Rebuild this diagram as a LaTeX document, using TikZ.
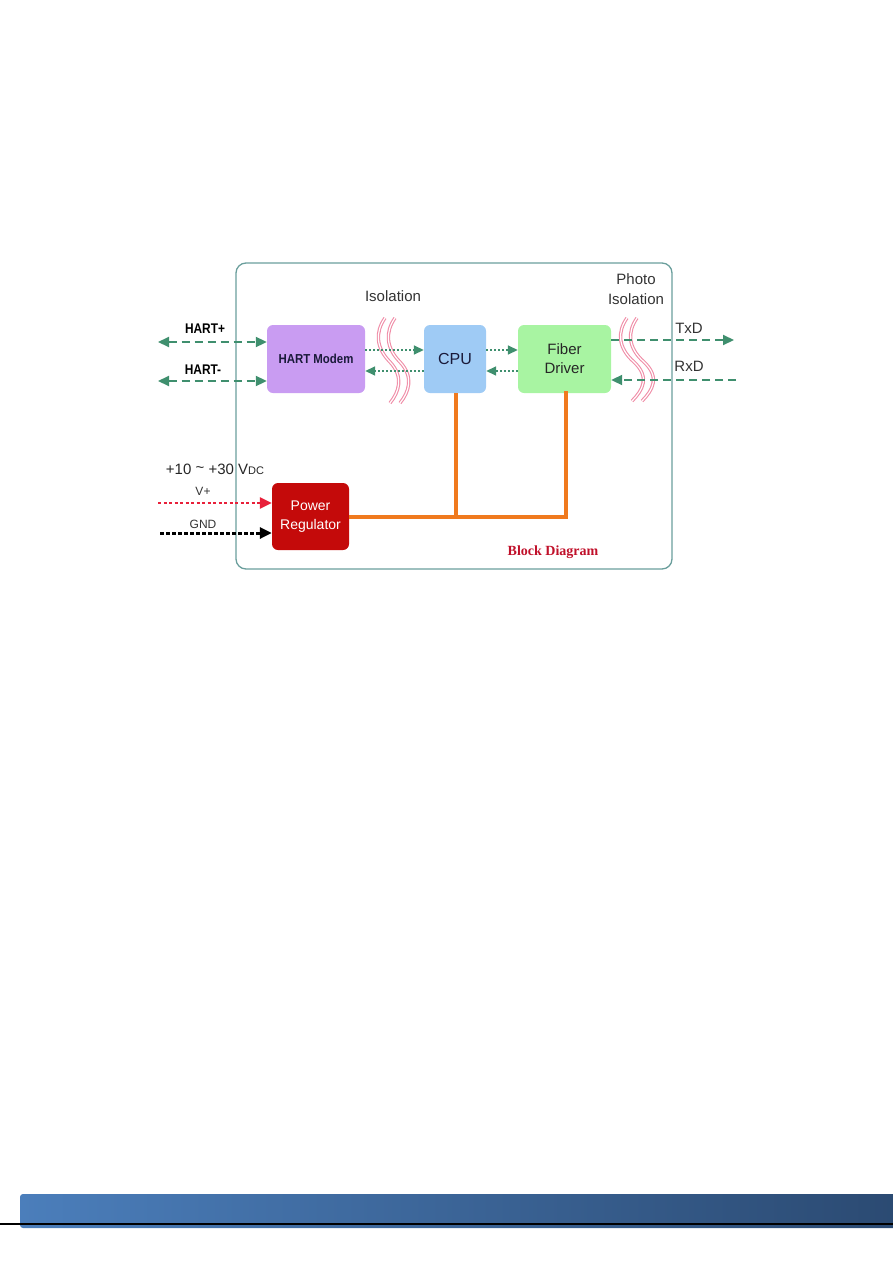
\documentclass[tikz,border=0pt]{standalone}
\usepackage{fontspec}
\setmainfont{Liberation Sans}
\newfontfamily\serifbf{Liberation Serif}
\usetikzlibrary{arrows.meta}
\definecolor{framec}{HTML}{6A9E9C}
\definecolor{modemc}{HTML}{C99CF2}
\definecolor{cpuc}{HTML}{9FCBF5}
\definecolor{fiberc}{HTML}{A8F4A2}
\definecolor{powerc}{HTML}{C40A0A}
\definecolor{sigc}{HTML}{3F8F6E}
\definecolor{isoc}{HTML}{F08EA8}
\definecolor{busc}{HTML}{F07A1E}
\definecolor{vplusc}{HTML}{E8203A}
\definecolor{bdc}{HTML}{C0102A}
\definecolor{modemtxt}{HTML}{1A1A3A}
\definecolor{barl}{HTML}{4B7EBB}
\definecolor{barr}{HTML}{2B4A72}
\begin{document}
\begin{tikzpicture}[x=1pt,y=-1pt,
  blk/.style={draw=none,rounded corners=6pt,inner sep=0pt,align=center},
  lbl/.style={inner sep=0pt,align=center},
  sig/.style={draw=sigc,line width=2pt,dash pattern=on 8pt off 5pt,-{Triangle[length=11pt,width=10pt,fill=sigc]}},
  sigboth/.style={sig,{Triangle[length=11pt,width=10pt,fill=sigc]}-{Triangle[length=11pt,width=10pt,fill=sigc]}},
  inner/.style={draw=sigc,line width=1.6pt,dash pattern=on 2pt off 2pt,-{Triangle[length=10pt,width=9pt,fill=sigc]}},
  isoout/.style={draw=isoc,line width=3.4pt},
  isoin/.style={draw=white,line width=1.2pt},
  bus/.style={draw=busc,line width=4pt}]
\useasboundingbox (0,0) rectangle (893,1263);
% frame
\draw[framec,line width=1.3pt,rounded corners=10pt] (236,263) rectangle (672,569);
% blocks
\node[blk,fill=modemc,minimum width=98pt,minimum height=68pt,font=\fontsize{13}{15}\selectfont\bfseries,text=modemtxt] (modem) at (316,359) {\scalebox{0.88}[1]{HART Modem}};
\node[blk,fill=cpuc,minimum width=62pt,minimum height=68pt,font=\fontsize{16}{18}\selectfont,text=modemtxt] (cpu) at (455,359) {CPU};
\node[blk,fill=fiberc,minimum width=93pt,minimum height=68pt,font=\fontsize{15}{19}\selectfont,text=black!85] (fiber) at (564.5,359) {Fiber\\Driver};
\node[blk,fill=powerc,minimum width=77pt,minimum height=67pt,font=\fontsize{14}{19}\selectfont,text=white] (power) at (310.5,516.5) {Power\\Regulator};
% labels
\node[lbl,font=\fontsize{15}{18}\selectfont,text=black!80] (isolbl) at (393,296) {Isolation};
\node[lbl,font=\fontsize{15}{20}\selectfont,text=black!80] (photolbl) at (636,289) {Photo\\Isolation};
\node[lbl,font=\fontsize{14}{16}\selectfont\bfseries] (hplbl) at (205,329) {\scalebox{0.85}[1]{HART+}};
\node[lbl,font=\fontsize{14}{16}\selectfont\bfseries] (hmlbl) at (203,370) {\scalebox{0.85}[1]{HART-}};
\node[lbl,font=\fontsize{15}{18}\selectfont,text=black!80] (txlbl) at (689,328) {TxD};
\node[lbl,font=\fontsize{15}{18}\selectfont,text=black!80] (rxlbl) at (689,366) {RxD};
\node[lbl,font=\fontsize{15}{18}\selectfont,text=black!85] (vdclbl) at (215,469) {+10 \raisebox{0.15ex}{\textasciitilde} +30 V{\fontsize{11}{12}\selectfont DC}};
\node[lbl,font=\fontsize{12}{14}\selectfont,text=black!80] (vplbl) at (203,491) {V+};
\node[lbl,font=\fontsize{12}{14}\selectfont,text=black!80] (gndlbl) at (203,524) {GND};
\node[lbl,font=\serifbf\fontsize{14}{16}\selectfont\bfseries,text=bdc] (bdlbl) at (553,552) {Block Diagram};
% coordinates for free ends
\coordinate (hpL) at (158,342);
\coordinate (hmL) at (158,381);
\coordinate (txR) at (734,340);
\coordinate (rxR) at (736,380);
\coordinate (vpL) at (158,503);
\coordinate (gnL) at (160,533);
% isolation squiggles (behind the signal lines)
\foreach \dx in {0,10}{
  \foreach \st in {isoout,isoin}{
    \draw[\st] (385+\dx,318) .. controls (375+\dx,332) and (376+\dx,348) .. (390+\dx,362) .. controls (404+\dx,377) and (399+\dx,392) .. (390+\dx,403);
    \draw[\st] (627+\dx,318) .. controls (617+\dx,332) and (618+\dx,348) .. (634+\dx,362) .. controls (650+\dx,377) and (643+\dx,390) .. (632+\dx,401);
  }
}
% HART lines
\draw[sigboth] (hpL) -- (hpL -| modem.west);
\draw[sigboth] (hmL) -- (hmL -| modem.west);
% inner dotted links
\draw[inner] (modem.east |- 0,350) -- (cpu.west |- 0,350);
\draw[inner] (cpu.west |- 0,371) -- (modem.east |- 0,371);
\draw[inner] (cpu.east |- 0,350) -- (fiber.west |- 0,350);
\draw[inner] (fiber.west |- 0,371) -- (cpu.east |- 0,371);
% fibre lines
\draw[sig] (fiber.east |- txR) -- (txR);
\draw[sig] (rxR) -- (rxR -| fiber.east);
% power input
\draw[draw=vplusc,line width=2.4pt,dash pattern=on 3pt off 2.5pt,-{Triangle[length=12pt,width=11pt,fill=vplusc]}] (vpL) -- (vpL -| power.west);
\draw[draw=black,line width=3pt,dash pattern=on 3.5pt off 2.5pt,-{Triangle[length=12pt,width=11pt,fill=black]}] (gnL) -- (gnL -| power.west);
% power bus
\coordinate (busJ) at (456,517);
\coordinate (busE) at (566,517);
\draw[bus] (power.east |- busJ) -- (busE);
\draw[bus] (cpu.south -| busJ) -- (busJ);
\draw[bus,line cap=rect] (fiber.south -| busE) -- (busE);
% bottom bar
\shade[left color=barl,right color=barr,rounded corners=3pt] (20,1194) rectangle (900,1228);
\draw[black,line width=2.5pt] (0,1224) -- (893,1224);
\end{tikzpicture}
\end{document}
